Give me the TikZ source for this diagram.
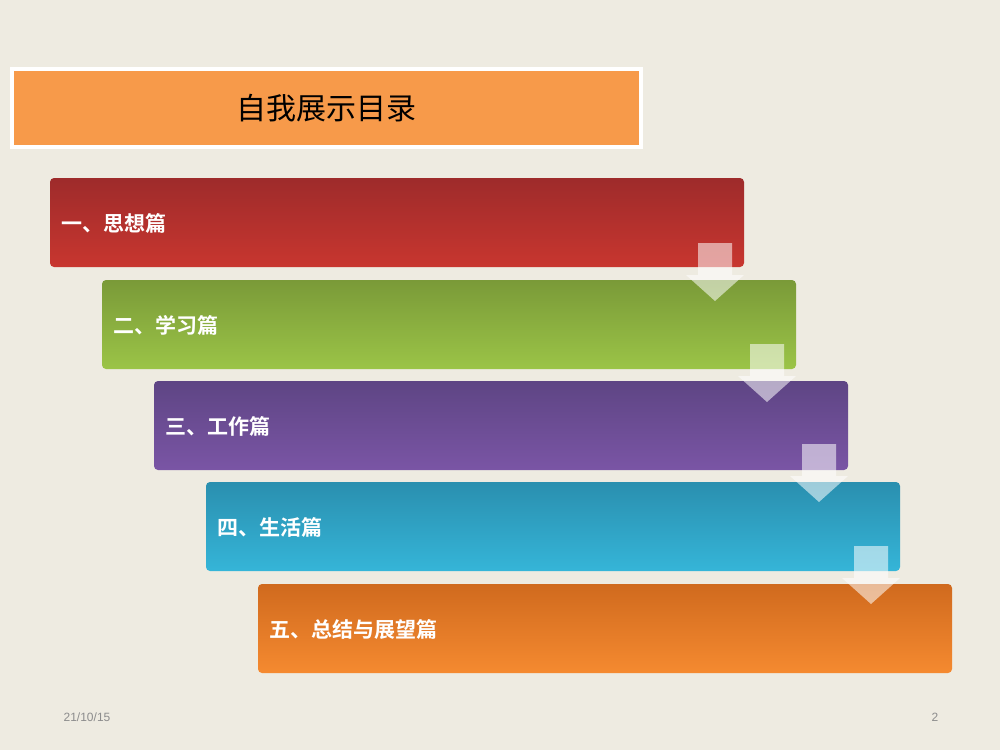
\documentclass[tikz,border=0pt]{standalone}
\usetikzlibrary{calc}
\usepackage{fontspec}
\setmainfont{Liberation Sans}
\newfontfamily\cjk{Noto Sans CJK SC}
\newfontfamily\cjkb{Noto Sans CJK SC Bold}
\begin{document}
\begin{tikzpicture}[x=1pt,y=-1pt,
  bar/.style={rounded corners=4pt},
  lbl/.style={anchor=west,text=white,font=\cjkb\fontsize{21}{21}\selectfont},
  darr/.style={fill=white,fill opacity=0.55,draw=none}]
\fill[fill={rgb,255:red,238;green,235;blue,225}] (0,0) rectangle (1000,750);
\useasboundingbox (0,0) rectangle (1000,750);
\fill[white] (10,67) rectangle (643,149);
\node[fill={rgb,255:red,247;green,154;blue,74},minimum width=625pt,minimum height=74pt,inner sep=0pt,anchor=north west,
  font=\cjk\fontsize{30}{30}\selectfont] (title) at (14,71) {自我展示目录};
\foreach \i/\x/\y/\ta/\tb/\txt in {
  1/50/178/{158,43,43}/{200,54,47}/一、思想篇,
  2/102/280/{122,154,56}/{155,196,71}/二、学习篇,
  3/154/381/{94,69,132}/{122,85,165}/三、工作篇,
  4/206/482/{42,143,175}/{53,181,216}/四、生活篇,
  5/258/584/{208,106,30}/{245,138,48}/五、总结与展望篇}{
  \definecolor{ca\i}{RGB}{\ta}\definecolor{cb\i}{RGB}{\tb}
  \shade[bar,top color=ca\i,bottom color=cb\i] (\x,\y) rectangle ++(694,89);
  \coordinate (b\i) at (\x,\y);
  \node[lbl] (t\i) at ($(\x,\y)+(8,45)$) {\txt};
}
\foreach \cx/\y in {715/243, 767/344, 819/444, 871/546}{
  \fill[darr] (\cx-17,\y) -- (\cx+17,\y) -- (\cx+17,\y+32) -- (\cx+29,\y+32) -- (\cx,\y+58) -- (\cx-29,\y+32) -- (\cx-17,\y+32) -- cycle;
}
\node[text={rgb,255:red,140;green,140;blue,140},font=\fontsize{12}{12}\selectfont] (date) at (87,717) {21/10/15};
\node[text={rgb,255:red,140;green,140;blue,140},font=\fontsize{12}{12}\selectfont] (page) at (935,717) {2};
\end{tikzpicture}
\end{document}
